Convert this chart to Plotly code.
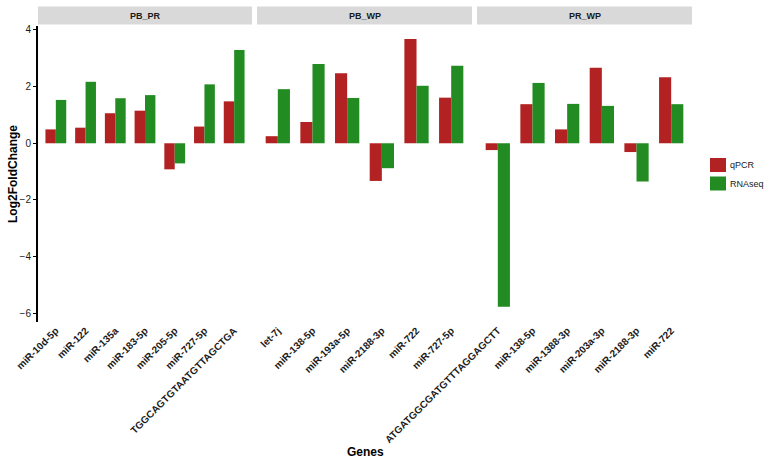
import plotly.graph_objects as go

# ---- data ----
panels = ["PB_PR", "PB_WP", "PR_WP"]
series_names = ["qPCR", "RNAseq"]

pb_pr_genes = ["miR-10d-5p", "miR-122", "miR-135a", "miR-183-5p", "miR-205-5p",
               "miR-727-5p", "TGGCAGTGTAATGTTAGCTGA"]
pb_pr_qpcr = [0.49, 0.55, 1.06, 1.15, -0.92, 0.59, 1.48]
pb_pr_rnaseq = [1.53, 2.17, 1.59, 1.70, -0.71, 2.08, 3.29]

pb_wp_genes = ["let-7j", "miR-138-5p", "miR-193a-5p", "miR-2188-3p", "miR-722", "miR-727-5p"]
pb_wp_qpcr = [0.25, 0.75, 2.47, -1.33, 3.68, 1.61]
pb_wp_rnaseq = [1.91, 2.80, 1.60, -0.88, 2.03, 2.74]

pr_wp_genes = ["ATGATGGCGATGTTTAGGAGCTT", "miR-138-5p", "miR-1388-3p", "miR-203a-3p",
               "miR-2188-3p", "miR-722"]
pr_wp_qpcr = [-0.24, 1.38, 0.49, 2.67, -0.31, 2.33]
pr_wp_rnaseq = [-5.77, 2.13, 1.39, 1.32, -1.35, 1.38]

y_ticks = [-6, -4, -2, 0, 2, 4]

# ---- styles ----
RED = "#B22222"
GREEN = "#228B22"
COLORS = [RED, GREEN]
FONT = "Liberation Sans, Arial, sans-serif"

panel_data = [
    (pb_pr_genes, pb_pr_qpcr, pb_pr_rnaseq),
    (pb_wp_genes, pb_wp_qpcr, pb_wp_rnaseq),
    (pr_wp_genes, pr_wp_qpcr, pr_wp_rnaseq),
]

W, H = 767, 463
left, right = 38, 692
top, bottom = 26, 322
pw = right - left
ph = bottom - top

def fx(px):
    return (px - left) / pw

def fy(py):
    return 1 - (py - top) / ph

domains = [[fx(38), fx(252)], [fx(257), fx(472)], [fx(477), fx(692)]]

fig = go.Figure()
for i, (genes, q, r) in enumerate(panel_data):
    xa = "x" if i == 0 else f"x{i+1}"
    fig.add_trace(go.Bar(x=genes, y=q, name="qPCR", marker=dict(color=RED, line=dict(width=0)),
                         xaxis=xa, yaxis="y", showlegend=False, offsetgroup="q"))
    fig.add_trace(go.Bar(x=genes, y=r, name="RNAseq", marker=dict(color=GREEN, line=dict(width=0)),
                         xaxis=xa, yaxis="y", showlegend=False, offsetgroup="r"))

layout = dict(
    width=W, height=H,
    margin=dict(l=left, r=W - right, t=top, b=H - bottom, autoexpand=False),
    paper_bgcolor="white", plot_bgcolor="white",
    barmode="group", bargap=0.3, bargroupgap=0,
    font=dict(family=FONT, color="#1a1a1a"),
    showlegend=False,
    yaxis=dict(range=[-6.31, 4.14], tickvals=y_ticks, showgrid=False, zeroline=False,
               showline=True, linecolor="black", linewidth=2, ticks="outside",
               ticklen=3, tickcolor="black", tickfont=dict(size=10, color="#1a1a1a"),
               anchor="x", automargin=False),
)
for i, (genes, q, r) in enumerate(panel_data):
    key = "xaxis" if i == 0 else f"xaxis{i+1}"
    layout[key] = dict(domain=domains[i], anchor="y", type="category",
                       categoryorder="array", categoryarray=genes,
                       range=[-0.6, len(genes) - 0.4],
                       showgrid=False, zeroline=False, showline=False, ticks="",
                       tickangle=-45, automargin=False,
                       tickfont=dict(size=10, color="#1a1a1a", weight="bold"))
fig.update_layout(**layout)

# strips
shapes = []
annotations = []
strip_y0 = fy(24.5)
strip_y1 = fy(6.5)
for i, name in enumerate(panels):
    d = domains[i]
    shapes.append(dict(type="rect", xref="paper", yref="paper", x0=d[0], x1=d[1],
                       y0=strip_y0, y1=strip_y1, fillcolor="#D9D9D9", line=dict(width=0),
                       layer="below"))
    annotations.append(dict(text=f"<b>{name}</b>", xref="paper", yref="paper",
                            x=(d[0] + d[1]) / 2, y=(strip_y0 + strip_y1) / 2,
                            xanchor="center", yanchor="middle",
                            showarrow=False, font=dict(size=9, color="#1a1a1a")))

# legend (keys + labels)
key_rows = [(158, 172), (176.5, 190.5)]
for (y0, y1), name, col in zip(key_rows, series_names, COLORS):
    shapes.append(dict(type="rect", xref="paper", yref="paper", x0=fx(710), x1=fx(726),
                       y0=fy(y1), y1=fy(y0), fillcolor=col, line=dict(width=0)))
    annotations.append(dict(text=name, xref="paper", yref="paper", x=fx(728),
                            y=fy((y0 + y1) / 2), xanchor="left", yanchor="middle",
                            showarrow=False, font=dict(size=9, color="#1a1a1a")))

annotations.append(dict(text="<b>Log2FoldChange</b>", xref="paper", yref="paper",
                        x=fx(13), y=0.5, textangle=-90, showarrow=False,
                        xanchor="center", yanchor="middle",
                        font=dict(size=12, color="black")))
annotations.append(dict(text="<b>Genes</b>", xref="paper", yref="paper",
                        x=0.5, y=fy(452), showarrow=False,
                        xanchor="center", yanchor="middle",
                        font=dict(size=12, color="black")))
fig.update_layout(shapes=shapes, annotations=annotations)

fig.write_html("out.html", config={"displayModeBar": False},
               post_script="document.body.style.margin='0';")
